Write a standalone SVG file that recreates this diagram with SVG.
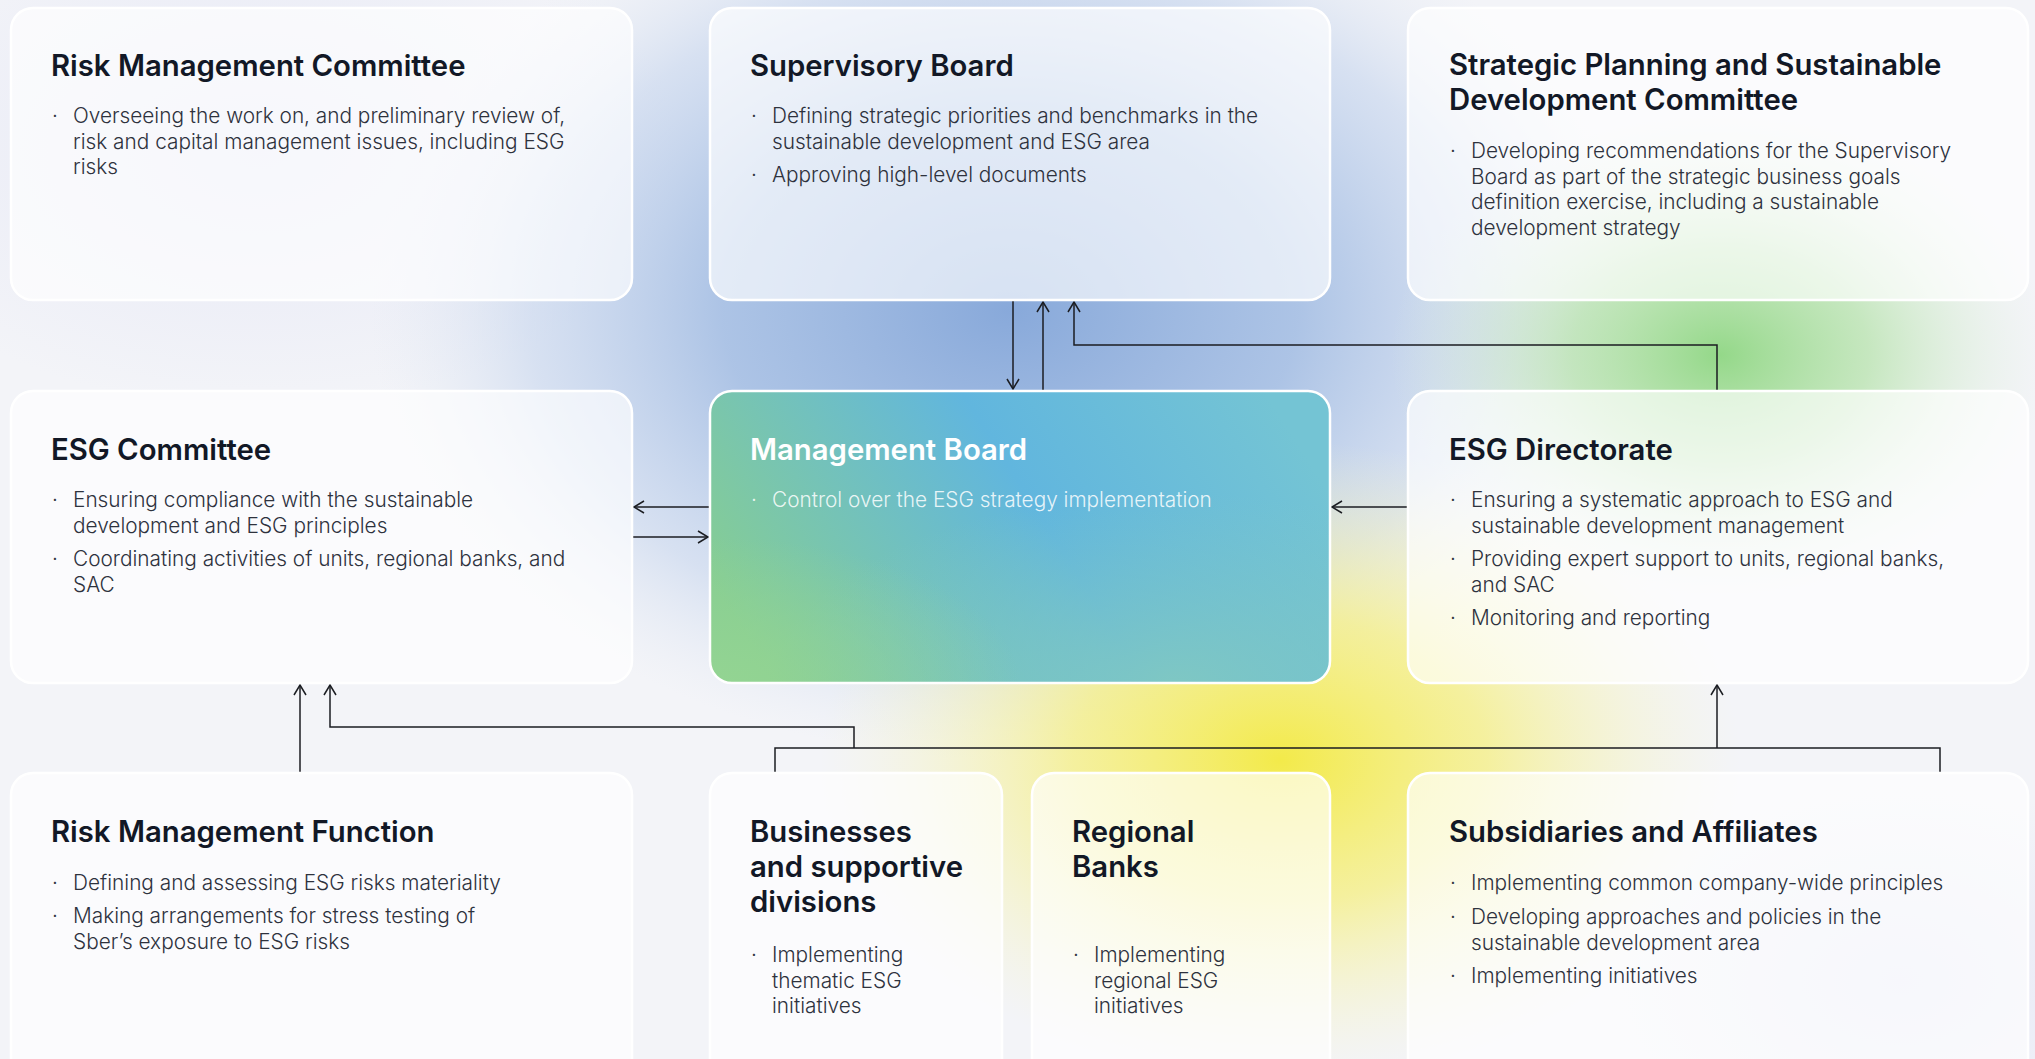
<svg xmlns="http://www.w3.org/2000/svg" width="2035" height="1059" viewBox="0 0 2035 1059">
<defs>
<radialGradient id="gBlue" cx="0.5" cy="0.5" r="0.5">
<stop offset="0" stop-color="#88a9da" stop-opacity="1"/>
<stop offset="0.45" stop-color="#a3bde3" stop-opacity="0.88"/>
<stop offset="0.75" stop-color="#c0d1ec" stop-opacity="0.55"/>
<stop offset="1" stop-color="#dde5f2" stop-opacity="0"/>
</radialGradient>
<radialGradient id="gGreen" cx="0.5" cy="0.5" r="0.5">
<stop offset="0" stop-color="#94d889" stop-opacity="1"/>
<stop offset="0.45" stop-color="#b4e2a9" stop-opacity="0.72"/>
<stop offset="1" stop-color="#dff0da" stop-opacity="0"/>
</radialGradient>
<radialGradient id="gYellow" cx="0.5" cy="0.5" r="0.5">
<stop offset="0" stop-color="#f3ea4a" stop-opacity="1"/>
<stop offset="0.45" stop-color="#f5ef85" stop-opacity="0.78"/>
<stop offset="1" stop-color="#f7f5c8" stop-opacity="0"/>
</radialGradient>
<radialGradient id="gLav" cx="0.5" cy="0.5" r="0.5">
<stop offset="0" stop-color="#e6e8f6" stop-opacity="1"/>
<stop offset="1" stop-color="#e6e8f6" stop-opacity="0"/>
</radialGradient>
<linearGradient id="gMB" x1="0" y1="0.65" x2="1" y2="0.35">
<stop offset="0" stop-color="#86cd93"/>
<stop offset="0.3" stop-color="#72c1bd"/>
<stop offset="0.55" stop-color="#61b6de"/>
<stop offset="1" stop-color="#74c4d4"/>
</linearGradient>
<radialGradient id="gMB2" cx="0.75" cy="1" r="0.65">
<stop offset="0" stop-color="#80c8c2" stop-opacity="0.95"/>
<stop offset="1" stop-color="#80c8c2" stop-opacity="0"/>
</radialGradient>
<radialGradient id="gMB3" cx="0" cy="1" r="0.5">
<stop offset="0" stop-color="#95d592" stop-opacity="0.9"/>
<stop offset="1" stop-color="#95d592" stop-opacity="0"/>
</radialGradient>
<marker id="ah" markerWidth="14" markerHeight="14" refX="11" refY="7" orient="auto" markerUnits="userSpaceOnUse">
<path d="M1,1 L11,7 L1,13" fill="none" stroke="#1b1d22" stroke-width="1.5"/>
</marker>
</defs>
<style>
.card{fill:#ffffff;fill-opacity:0.66;stroke:#ffffff;stroke-width:2.5}
.t{font-family:Inter,"Noto Sans",sans-serif;font-weight:600;font-size:29.3px;fill:#121826}
.b{font-family:Inter,"Noto Sans",sans-serif;font-weight:300;font-size:20.8px;fill:#2e323d}
.w{fill:#ffffff}
.wb{fill:#ffffff;fill-opacity:0.85}
.c{fill:none;stroke:#1b1d22;stroke-width:1.5}
</style>
<rect x="0" y="0" width="2035" height="1059" fill="#f3f4f8"/>
<ellipse cx="260" cy="150" rx="420" ry="260" fill="url(#gLav)"/>
<ellipse cx="1010" cy="310" rx="640" ry="450" fill="url(#gBlue)"/>
<ellipse cx="1720" cy="355" rx="330" ry="240" fill="url(#gGreen)"/>
<ellipse cx="1280" cy="760" rx="460" ry="320" fill="url(#gYellow)"/>
<ellipse cx="1900" cy="980" rx="300" ry="200" fill="url(#gLav)"/>

<g id="connectors">
<line class="c" x1="1013" y1="300" x2="1013" y2="389" marker-end="url(#ah)"/>
<line class="c" x1="1043" y1="391" x2="1043" y2="302" marker-end="url(#ah)"/>
<path class="c" d="M1717,391 V345 H1074 V302" marker-end="url(#ah)"/>
<line class="c" x1="709" y1="507" x2="634" y2="507" marker-end="url(#ah)"/>
<line class="c" x1="633" y1="537" x2="708" y2="537" marker-end="url(#ah)"/>
<line class="c" x1="1407" y1="507" x2="1332" y2="507" marker-end="url(#ah)"/>
<line class="c" x1="300" y1="772" x2="300" y2="685" marker-end="url(#ah)"/>
<path class="c" d="M775,772 V748 H1940 V772"/>
<path class="c" d="M854,748 V727 H330 V685" marker-end="url(#ah)"/>
<line class="c" x1="1717" y1="748" x2="1717" y2="685" marker-end="url(#ah)"/>
</g>

<g id="risk-management-committee">
<rect class="card" x="11" y="8" width="621" height="292" rx="22"/>
<text class="t" x="51" y="76">Risk Management Committee</text>
<text class="b" x="52" y="123">·</text>
<text class="b" x="73" y="123">Overseeing the work on, and preliminary review of,</text>
<text class="b" x="73" y="148.5">risk and capital management issues, including ESG</text>
<text class="b" x="73" y="174">risks</text>
</g>

<g id="supervisory-board">
<rect class="card" x="710" y="8" width="620" height="292" rx="22"/>
<text class="t" x="750" y="76">Supervisory Board</text>
<text class="b" x="751" y="123">·</text>
<text class="b" x="772" y="123">Defining strategic priorities and benchmarks in the</text>
<text class="b" x="772" y="148.5">sustainable development and ESG area</text>
<text class="b" x="751" y="182">·</text>
<text class="b" x="772" y="182">Approving high-level documents</text>
</g>

<g id="strategic-planning-committee">
<rect class="card" x="1408" y="8" width="620" height="292" rx="22"/>
<text class="t" x="1449" y="75">Strategic Planning and Sustainable</text>
<text class="t" x="1449" y="110">Development Committee</text>
<text class="b" x="1450" y="158">·</text>
<text class="b" x="1471" y="158">Developing recommendations for the Supervisory</text>
<text class="b" x="1471" y="183.5">Board as part of the strategic business goals</text>
<text class="b" x="1471" y="209">definition exercise, including a sustainable</text>
<text class="b" x="1471" y="234.5">development strategy</text>
</g>

<g id="esg-committee">
<rect class="card" x="11" y="391" width="621" height="292" rx="22"/>
<text class="t" x="51" y="460">ESG Committee</text>
<text class="b" x="52" y="507">·</text>
<text class="b" x="73" y="507">Ensuring compliance with the sustainable</text>
<text class="b" x="73" y="532.5">development and ESG principles</text>
<text class="b" x="52" y="566">·</text>
<text class="b" x="73" y="566">Coordinating activities of units, regional banks, and</text>
<text class="b" x="73" y="591.5">SAC</text>
</g>

<g id="management-board">
<rect x="710" y="391" width="620" height="292" rx="22" fill="url(#gMB)"/>
<rect x="710" y="391" width="620" height="292" rx="22" fill="url(#gMB2)"/>
<rect x="710" y="391" width="620" height="292" rx="22" fill="url(#gMB3)"/>
<rect x="710" y="391" width="620" height="292" rx="22" fill="none" stroke="#ffffff" stroke-width="2.5"/>
<text class="t w" x="750" y="460">Management Board</text>
<text class="b wb" x="751" y="507">·</text>
<text class="b wb" x="772" y="507">Control over the ESG strategy implementation</text>
</g>

<g id="esg-directorate">
<rect class="card" x="1408" y="391" width="620" height="292" rx="22"/>
<text class="t" x="1449" y="460">ESG Directorate</text>
<text class="b" x="1450" y="507">·</text>
<text class="b" x="1471" y="507">Ensuring a systematic approach to ESG and</text>
<text class="b" x="1471" y="532.5">sustainable development management</text>
<text class="b" x="1450" y="566">·</text>
<text class="b" x="1471" y="566">Providing expert support to units, regional banks,</text>
<text class="b" x="1471" y="591.5">and SAC</text>
<text class="b" x="1450" y="625">·</text>
<text class="b" x="1471" y="625">Monitoring and reporting</text>
</g>

<g id="risk-management-function">
<rect class="card" x="11" y="773" width="621" height="320" rx="22"/>
<text class="t" x="51" y="842">Risk Management Function</text>
<text class="b" x="52" y="890">·</text>
<text class="b" x="73" y="890">Defining and assessing ESG risks materiality</text>
<text class="b" x="52" y="923">·</text>
<text class="b" x="73" y="923">Making arrangements for stress testing of</text>
<text class="b" x="73" y="948.5">Sber’s exposure to ESG risks</text>
</g>

<g id="businesses-divisions">
<rect class="card" x="710" y="773" width="292" height="320" rx="22"/>
<text class="t" x="750" y="842">Businesses</text>
<text class="t" x="750" y="877">and supportive</text>
<text class="t" x="750" y="912">divisions</text>
<text class="b" x="751" y="962">·</text>
<text class="b" x="772" y="962">Implementing</text>
<text class="b" x="772" y="987.5">thematic ESG</text>
<text class="b" x="772" y="1013">initiatives</text>
</g>

<g id="regional-banks">
<rect class="card" x="1032" y="773" width="298" height="320" rx="22"/>
<text class="t" x="1072" y="842">Regional</text>
<text class="t" x="1072" y="877">Banks</text>
<text class="b" x="1073" y="962">·</text>
<text class="b" x="1094" y="962">Implementing</text>
<text class="b" x="1094" y="987.5">regional ESG</text>
<text class="b" x="1094" y="1013">initiatives</text>
</g>

<g id="subsidiaries-affiliates">
<rect class="card" x="1408" y="773" width="620" height="320" rx="22"/>
<text class="t" x="1449" y="842">Subsidiaries and Affiliates</text>
<text class="b" x="1450" y="890">·</text>
<text class="b" x="1471" y="890">Implementing common company-wide principles</text>
<text class="b" x="1450" y="924">·</text>
<text class="b" x="1471" y="924">Developing approaches and policies in the</text>
<text class="b" x="1471" y="949.5">sustainable development area</text>
<text class="b" x="1450" y="983">·</text>
<text class="b" x="1471" y="983">Implementing initiatives</text>
</g>
</svg>
